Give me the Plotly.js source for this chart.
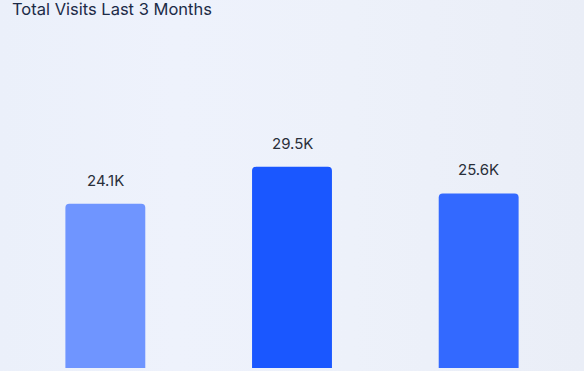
<!DOCTYPE html>
<html>
<head>
<meta charset="utf-8">
<script src="https://cdn.plot.ly/plotly-3.0.1.min.js"></script>
<style>
html,body{margin:0;padding:0;}
body{width:584px;height:371px;overflow:hidden;background:linear-gradient(90deg,#ebf0fa 0%,#eef2fc 30%,#edf1fa 60%,#eaeef7 100%);}
#chart{width:584px;height:371px;}
</style>
</head>
<body>
<div id="chart"></div>
<script>
const categories = ["Month 1", "Month 2", "Month 3"];
const visits = [24100, 29500, 25600];
const valueLabels = ["24.1K", "29.5K", "25.6K"];
const barColors = ["#6f95ff", "#1a57ff", "#3369ff"];

const trace = {
  type: "bar",
  x: categories,
  y: visits,
  marker: { color: barColors, cornerradius: 4, line: { width: 0 } },
  hoverinfo: "none"
};

const annotations = categories.map((c, i) => ({
  x: c, y: visits[i], xref: "x", yref: "y",
  text: valueLabels[i], showarrow: false,
  yanchor: "bottom", yshift: 12,
  font: { family: "Inter, 'Open Sans', sans-serif", size: 15, color: "#2a2f3a" }
}));

const layout = {
  width: 584, height: 371,
  margin: { l: 11.5, r: 11.5, t: 40, b: 3 },
  paper_bgcolor: "rgba(0,0,0,0)",
  plot_bgcolor: "rgba(0,0,0,0)",
  bargap: 0.572,
  showlegend: false,
  title: {
    text: "Total Visits Last 3 Months",
    x: 12 / 584, xref: "container", xanchor: "left",
    y: 1 - 3 / 371, yref: "container", yanchor: "top",
    pad: { t: 0, b: 0, l: 0, r: 0 },
    font: { family: "Inter, 'Open Sans', sans-serif", size: 16.5, color: "#1c2b47" }
  },
  xaxis: { visible: false, range: [-0.5, 2.5], fixedrange: true },
  yaxis: { visible: false, range: [0, 48100], fixedrange: true },
  annotations: annotations
};

Plotly.newPlot("chart", [trace], layout, { displayModeBar: false, staticPlot: true });
</script>
</body>
</html>
